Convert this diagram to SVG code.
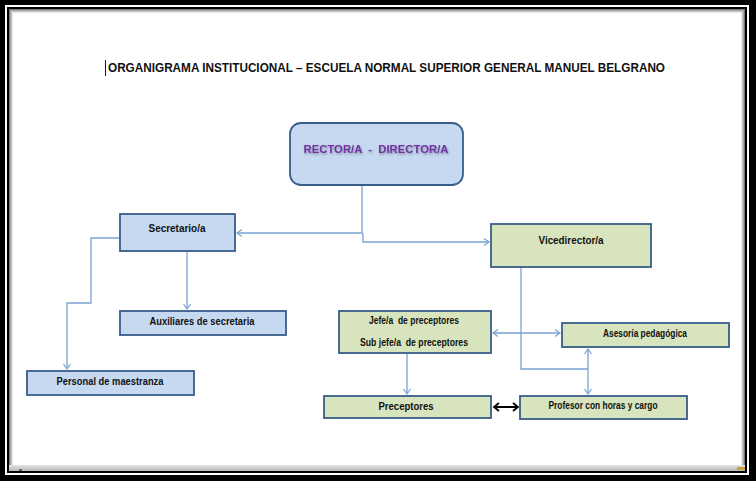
<svg xmlns="http://www.w3.org/2000/svg" width="756" height="481" viewBox="0 0 756 481">
<defs>
<style>
.box{stroke:#385d8a;stroke-width:1.8}
.blue{fill:#c6d9f1}
.green{fill:#d7e4bd}
.lbl{font-family:"Liberation Sans",Arial,sans-serif;font-weight:bold;font-size:10.5px;fill:#111;text-anchor:middle}
.con{fill:none;stroke:#7aa2d4;stroke-width:1.3}
</style>
<marker id="ah" markerWidth="8" markerHeight="8" refX="6" refY="4" orient="auto-start-reverse" markerUnits="userSpaceOnUse">
<path d="M1,0.5 L6,4 L1,7.5" fill="none" stroke="#7aa2d4" stroke-width="1.2"/>
</marker>
<marker id="ahk" markerWidth="8" markerHeight="10" refX="6" refY="5" orient="auto-start-reverse" markerUnits="userSpaceOnUse">
<path d="M1,1 L6,5 L1,9" fill="none" stroke="#000" stroke-width="1.8"/>
</marker>
<filter id="sh" x="-10%" y="-30%" width="120%" height="170%">
<feDropShadow dx="0.8" dy="1.5" stdDeviation="0.8" flood-color="#000" flood-opacity="0.35"/>
</filter>
<linearGradient id="bar" x1="0" y1="0" x2="0" y2="1">
<stop offset="0" stop-color="#e4e4e4"/>
<stop offset="1" stop-color="#b8b8b8"/>
</linearGradient>
</defs>

<g id="frame">
<rect x="0" y="0" width="756" height="481" fill="#000"/>
<rect x="5" y="5" width="744" height="470" fill="#fff"/>
<rect x="7" y="7" width="740" height="466" fill="#000"/>
<rect x="9" y="9" width="736" height="462" fill="#fff"/>
<rect x="9.5" y="9.5" width="735" height="461" fill="none" stroke="#7a7a7a"/>
<rect x="10.5" y="10.5" width="733" height="459" fill="none" stroke="#a5a5a5"/>
<rect x="11.5" y="11.5" width="731" height="457" fill="none" stroke="#c8c8c8"/>
<rect x="12.5" y="12.5" width="729" height="455" fill="none" stroke="#e6e6e6"/>
<rect x="9" y="465" width="736" height="6" fill="url(#bar)"/>
<rect x="19" y="469" width="3" height="2" fill="#666"/>
<rect x="737" y="467" width="8" height="3" fill="#c8a040"/>
</g>

<g id="title">
<line x1="105.5" y1="60" x2="105.5" y2="76" stroke="#1a1a1a" stroke-width="1"/>
<text x="108" y="72" font-family="'Liberation Sans',Arial,sans-serif" font-size="13.5" font-weight="bold" fill="#111" textLength="557" lengthAdjust="spacingAndGlyphs">ORGANIGRAMA INSTITUCIONAL – ESCUELA NORMAL SUPERIOR GENERAL MANUEL BELGRANO</text>
</g>

<g id="connectors">
<polyline class="con" points="362,185 362,233 237,233" marker-end="url(#ah)"/>
<polyline class="con" points="363,233 363,242 489,242" marker-end="url(#ah)"/>
<polyline class="con" points="120,238 91,238 91,303 67,303 67,369" marker-end="url(#ah)"/>
<line class="con" x1="187" y1="251" x2="187" y2="309" marker-end="url(#ah)"/>
<polyline class="con" points="521,267 521,369 588,369"/>
<line class="con" x1="588" y1="349" x2="588" y2="394" marker-start="url(#ah)" marker-end="url(#ah)"/>
<line class="con" x1="493" y1="333" x2="560" y2="333" marker-start="url(#ah)" marker-end="url(#ah)"/>
<line class="con" x1="407" y1="353" x2="407" y2="394" marker-end="url(#ah)"/>
<line x1="494" y1="407" x2="518" y2="407" stroke="#000" stroke-width="2" marker-start="url(#ahk)" marker-end="url(#ahk)"/>
</g>

<g id="rector">
<rect class="box blue" x="290" y="123" width="173" height="62" rx="11"/>
<text x="376" y="153" font-family="'Liberation Sans',Arial,sans-serif" font-weight="bold" font-size="11.5" fill="#7030a0" text-anchor="middle" textLength="145" lengthAdjust="spacingAndGlyphs" filter="url(#sh)" xml:space="preserve">RECTOR/A  -  DIRECTOR/A</text>
</g>

<g id="secretario">
<rect class="box blue" x="120" y="214" width="115" height="37"/>
<text class="lbl" x="177" y="232" textLength="57" lengthAdjust="spacingAndGlyphs">Secretario/a</text>
</g>

<g id="vicedirector">
<rect class="box green" x="491" y="224" width="160" height="43"/>
<text class="lbl" x="571" y="244" textLength="65" lengthAdjust="spacingAndGlyphs">Vicedirector/a</text>
</g>

<g id="auxiliares">
<rect class="box blue" x="120" y="311" width="166" height="24"/>
<text class="lbl" x="202" y="325" textLength="105" lengthAdjust="spacingAndGlyphs">Auxiliares de secretaria</text>
</g>

<g id="maestranza">
<rect class="box blue" x="27" y="371" width="167" height="24"/>
<text class="lbl" x="110" y="385" textLength="107" lengthAdjust="spacingAndGlyphs">Personal de maestranza</text>
</g>

<g id="jefe">
<rect class="box green" x="339" y="311" width="152" height="42"/>
<text class="lbl" x="414" y="324" textLength="90" lengthAdjust="spacingAndGlyphs" xml:space="preserve">Jefe/a  de preceptores</text>
<text class="lbl" x="414" y="346" textLength="108" lengthAdjust="spacingAndGlyphs" xml:space="preserve">Sub jefe/a  de preceptores</text>
</g>

<g id="asesoria">
<rect class="box green" x="562" y="323" width="167" height="24"/>
<text class="lbl" x="645" y="337" textLength="84" lengthAdjust="spacingAndGlyphs">Asesoría pedagógica</text>
</g>

<g id="preceptores">
<rect class="box green" x="324" y="396" width="167" height="22"/>
<text class="lbl" x="406" y="410" textLength="55" lengthAdjust="spacingAndGlyphs">Preceptores</text>
</g>

<g id="profesor">
<rect class="box green" x="520" y="396" width="167" height="23"/>
<text class="lbl" x="603" y="409" textLength="109" lengthAdjust="spacingAndGlyphs">Profesor con horas y cargo</text>
</g>
</svg>
